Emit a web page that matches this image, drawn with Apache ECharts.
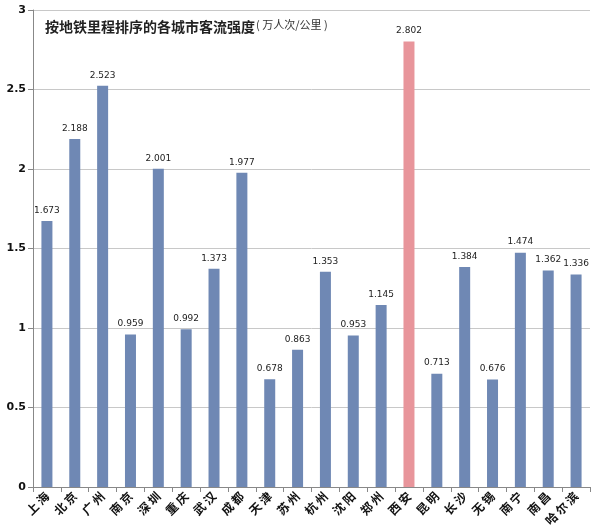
<!DOCTYPE html>
<html><head><meta charset="utf-8">
<script src="https://cdn.jsdelivr.net/npm/echarts@6/dist/echarts.min.js"></script>
<style>html,body{margin:0;padding:0;background:#fff}#c{width:600px;height:532px}</style>
</head><body><div id="c"></div>
<script>
const cities = ['上海','北京','广州','南京','深圳','重庆','武汉','成都','天津','苏州','杭州','沈阳','郑州','西安','昆明','长沙','无锡','南宁','南昌','哈尔滨'];
const values = [1.673,2.188,2.523,0.959,2.001,0.992,1.373,1.977,0.678,0.863,1.353,0.953,1.145,2.802,0.713,1.384,0.676,1.474,1.362,1.336];
const highlightCity = '西安';
const yTicks = [0,0.5,1,1.5,2,2.5,3];

const chart = echarts.init(document.getElementById('c'));
chart.setOption({
  animation:false,
  backgroundColor:'#fff',
  title:{
    text:'按地铁里程排序的各城市客流强度',
    left:40, top:15,
    textStyle:{fontFamily:'Noto Sans CJK SC',fontSize:14,fontWeight:'bold',color:'#222'}
  },
  graphic:[{type:'text',left:256,top:19,style:{text:'( 万人次/公里 )',font:'11px "Noto Sans CJK SC"',fill:'#333'}}],
  grid:{left:33,right:10,top:10,bottom:45},
  xAxis:{
    type:'category',data:cities,
    axisLine:{lineStyle:{color:'#888'}},
    axisTick:{show:true,length:5,lineStyle:{color:'#888'}},
    axisLabel:{rotate:45,interval:0,fontFamily:'Noto Sans CJK SC',fontSize:12,fontWeight:'bold',color:'#111',margin:7,
      formatter:v=>v.split('').join('\u2009')}
  },
  yAxis:{
    type:'value',min:yTicks[0],max:yTicks[yTicks.length-1],interval:0.5,
    axisLine:{show:true,lineStyle:{color:'#888'}},
    axisTick:{show:true,length:5,lineStyle:{color:'#888'}},
    splitLine:{lineStyle:{color:'#c8c8c8'}},
    axisLabel:{fontFamily:'DejaVu Sans',fontSize:11,fontWeight:'bold',color:'#111',margin:7}
  },
  series:[{
    type:'bar',barWidth:11,
    data:values.map((v,i)=>({value:v,itemStyle:{color:cities[i]===highlightCity?'#E8959B':'#6F88B4'}})),
    label:{show:true,position:'top',distance:6,fontFamily:'DejaVu Sans',fontSize:9,color:'#222',formatter:p=>p.value.toFixed(3)}
  }]
});
</script></body></html>
